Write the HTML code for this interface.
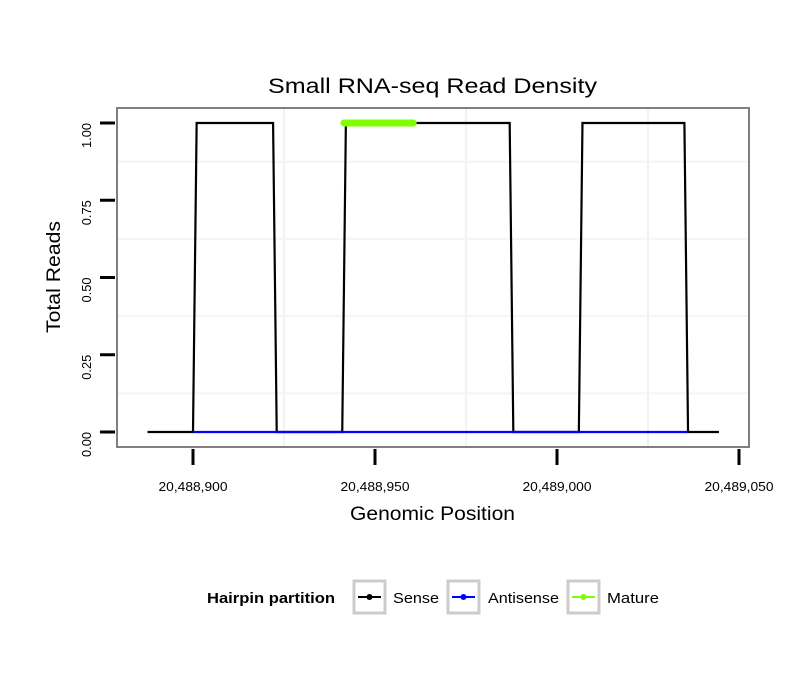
<!DOCTYPE html>
<html><head><meta charset="utf-8"><style>
body{margin:0;background:#fff;}
svg text{font-family:"Liberation Sans",sans-serif;}
</style></head><body>
<svg width="810" height="690" xmlns="http://www.w3.org/2000/svg">
<rect width="810" height="690" fill="#fff"/>
<text x="432.5" y="93" text-anchor="middle" font-size="21" textLength="329" lengthAdjust="spacingAndGlyphs">Small RNA-seq Read Density</text>
<rect x="117" y="108" width="632" height="339" fill="#fff"/>
<g id="grid"></g>
<g id="series"></g>
<rect x="117" y="108" width="632" height="339" fill="none" stroke="#7f7f7f" stroke-width="2"/>
<g id="axes"></g>
<text x="432.5" y="520" text-anchor="middle" font-size="19" textLength="165" lengthAdjust="spacingAndGlyphs">Genomic Position</text>
<text transform="translate(60,277) rotate(-90)" text-anchor="middle" font-size="19" textLength="112" lengthAdjust="spacingAndGlyphs">Total Reads</text>
<g>
<text x="207" y="603" font-size="15" font-weight="bold" textLength="128" lengthAdjust="spacingAndGlyphs">Hairpin partition</text>
<g>
<rect x="354" y="581" width="31" height="32" fill="#fff" stroke="#ccc" stroke-width="3"/>
<line x1="358" y1="597" x2="381" y2="597" stroke="#000" stroke-width="2"/><circle cx="369.5" cy="597" r="3" fill="#000"/>
<text x="393" y="603" font-size="15" textLength="46" lengthAdjust="spacingAndGlyphs">Sense</text></g>
<g>
<rect x="448" y="581" width="31" height="32" fill="#fff" stroke="#ccc" stroke-width="3"/>
<line x1="452" y1="597" x2="475" y2="597" stroke="#00f" stroke-width="2"/><circle cx="463.5" cy="597" r="3" fill="#00f"/>
<text x="488" y="603" font-size="15" textLength="71" lengthAdjust="spacingAndGlyphs">Antisense</text></g>
<g>
<rect x="568" y="581" width="31" height="32" fill="#fff" stroke="#ccc" stroke-width="3"/>
<line x1="572" y1="597" x2="595" y2="597" stroke="#7fff00" stroke-width="2"/><circle cx="583.5" cy="597" r="3" fill="#7fff00"/>
<text x="607" y="603" font-size="15" textLength="52" lengthAdjust="spacingAndGlyphs">Mature</text></g>
</g>
</svg>
<script>
const senseX=[20488887.5,20488900,20488901,20488922,20488923,20488941,20488942,20488987,20488988,20489006,20489007,20489035,20489036,20489044.5];
const senseY=[0,0,1,1,0,0,1,1,0,0,1,1,0,0];
const antisenseX=[20488900,20489036];
const antisenseY=[0,0];
const matureX=[20488941.5,20488960.5];
const matureY=[1,1];
const xTicks=[20488900,20488950,20489000,20489050];
const xTickLabels=["20,488,900","20,488,950","20,489,000","20,489,050"];
const yTicks=[0,0.25,0.5,0.75,1];
const yTickLabels=["0.00","0.25","0.50","0.75","1.00"];
const NS="http://www.w3.org/2000/svg";
function sx(v){return 193+(v-20488900)*3.64;}
function sy(v){return 432-v*309;}
function mk(t,a,p){const e=document.createElementNS(NS,t);for(const k in a)e.setAttribute(k,a[k]);p.appendChild(e);return e;}
const grid=document.getElementById('grid'),ser=document.getElementById('series'),ax=document.getElementById('axes');
for(let i=0;i<xTicks.length-1;i++){const m=(xTicks[i]+xTicks[i+1])/2;
 const g=mk('line',{x1:sx(m),x2:sx(m),y1:108,y2:447,stroke:'#f2f2f2','stroke-width':2},grid);
 
 }
for(let i=0;i<yTicks.length-1;i++){const m=(yTicks[i]+yTicks[i+1])/2;
 const g=mk('line',{x1:117,x2:749,y1:sy(m),y2:sy(m),stroke:'#f4f4f4','stroke-width':2},grid);
 
 }
function path(xs,ys,col,w,name){const d=xs.map((x,i)=>(i?'L':'M')+sx(x)+','+sy(ys[i])).join('');
 const p=mk('path',{d:d,fill:'none',stroke:col,'stroke-width':w,'stroke-linecap':w>3?'round':'butt'},ser);
 
 }
path(senseX,senseY,'#000',2.2,'sense-line');
path(antisenseX,antisenseY,'#00f',2.2,'antisense-line');
path(matureX,matureY,'#7fff00',7,'mature-line');
xTicks.forEach((v,i)=>{const t=mk('line',{x1:sx(v),x2:sx(v),y1:449,y2:465,stroke:'#000','stroke-width':3},ax);
 
 
 const l=mk('text',{x:sx(v),y:491,'text-anchor':'middle','font-size':13,textLength:69,lengthAdjust:'spacingAndGlyphs'},ax);l.textContent=xTickLabels[i];
 
 });
yTicks.forEach((v,i)=>{const t=mk('line',{x1:100,x2:115,y1:sy(v),y2:sy(v),stroke:'#000','stroke-width':3},ax);
 
 
 const l=mk('text',{transform:'translate(91,'+sy(v)+') rotate(-90)','text-anchor':'end','font-size':13,textLength:25,lengthAdjust:'spacingAndGlyphs'},ax);l.textContent=yTickLabels[i];
 
 });
</script>
</body></html>
